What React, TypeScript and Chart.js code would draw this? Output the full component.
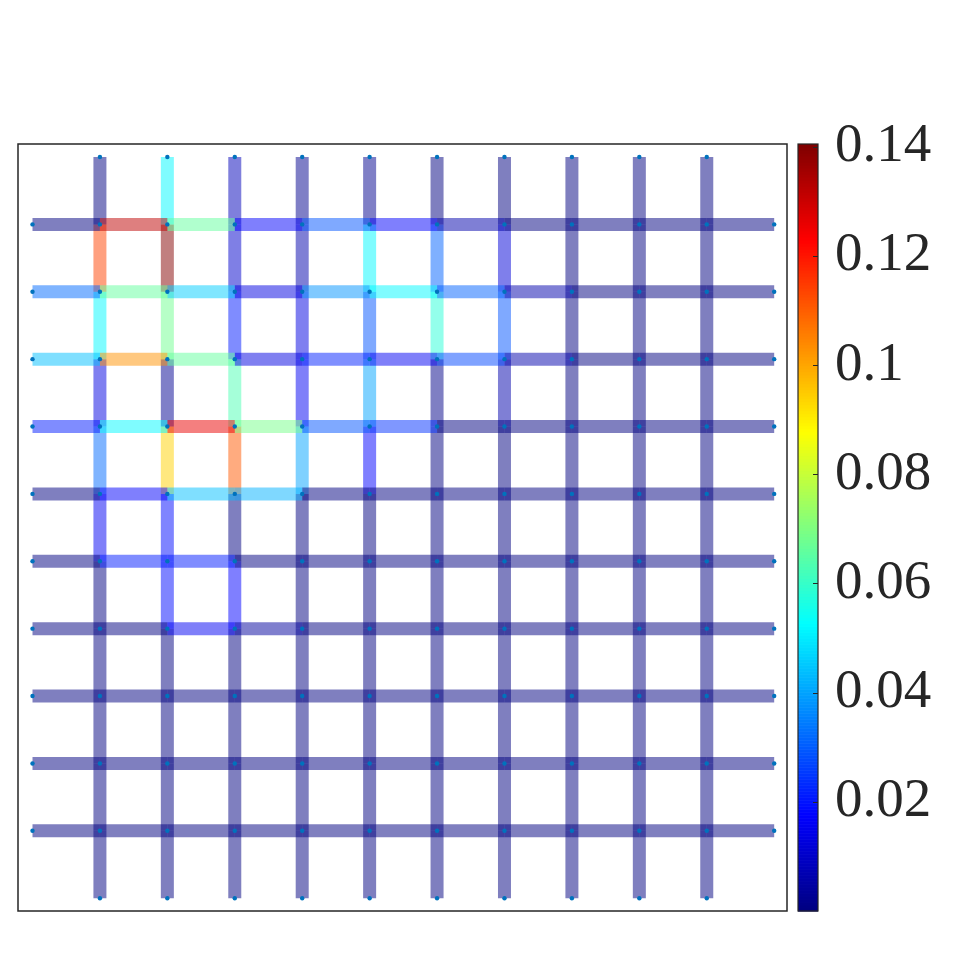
import React, { useEffect, useRef } from 'react';
import { Chart, registerables } from 'chart.js';

Chart.register(...registerables);

// Grid node positions (same for columns and rows) and the extent of the stubs
const NODES = [1, 2, 3, 4, 5, 6, 7, 8, 9, 10];
const SPAN_START = 0;
const SPAN_END = 11;

// Horizontal edge values: one row per grid row (top to bottom), 11 segments left to right
const H_VALUES: number[][] = [
  [0, 0.132, 0.066, 0.017, 0.029, 0.017, 0.006, 0, 0, 0, 0],
  [0.032, 0.066, 0.046, 0.0135, 0.038, 0.052, 0.031, 0.006, 0, 0, 0],
  [0.044, 0.103, 0.066, 0.0135, 0.022, 0.016, 0.027, 0.006, 0, 0, 0],
  [0.021, 0.052, 0.126, 0.069, 0.029, 0.024, 0, 0, 0, 0, 0],
  [0, 0.017, 0.044, 0.042, 0, 0, 0, 0, 0, 0, 0],
  [0, 0.021, 0.021, 0, 0, 0, 0, 0, 0, 0, 0],
  [0, 0, 0.016, 0.004, 0, 0, 0, 0, 0, 0, 0],
  [0, 0, 0, 0, 0, 0, 0, 0, 0, 0, 0],
  [0, 0, 0, 0, 0, 0, 0, 0, 0, 0, 0],
  [0, 0, 0, 0, 0, 0, 0, 0, 0, 0, 0],
];

// Vertical edge values: one entry per grid column (left to right), 11 segments top to bottom
const V_VALUES: number[][] = [
  [0, 0.114, 0.052, 0.0135, 0.032, 0.016, 0, 0, 0, 0, 0],
  [0.052, 0.14, 0.068, 0.0025, 0.094, 0.019, 0.019, 0, 0, 0, 0],
  [0.008, 0.0105, 0.021, 0.063, 0.111, 0, 0.0176, 0, 0, 0, 0],
  [0.002, 0.006, 0.0135, 0.016, 0.04, 0, 0, 0, 0, 0, 0],
  [0.002, 0.052, 0.029, 0.04, 0.0176, 0, 0, 0, 0, 0, 0],
  [0, 0.031, 0.058, 0.001, 0, 0, 0, 0, 0, 0, 0],
  [0, 0.012, 0.029, 0.006, 0, 0, 0, 0, 0, 0, 0],
  [0, 0, 0, 0, 0, 0, 0, 0, 0, 0, 0],
  [0, 0, 0, 0, 0, 0, 0, 0, 0, 0, 0],
  [0, 0, 0, 0, 0, 0, 0, 0, 0, 0, 0],
];

// Colour bar
const CB_MIN = 0;
const CB_MAX = 0.1405;
const CB_TICKS = [0.02, 0.04, 0.06, 0.08, 0.1, 0.12, 0.14];
const CB_TICK_LABELS = ['0.02', '0.04', '0.06', '0.08', '0.1', '0.12', '0.14'];

const clamp01 = (v: number) => Math.max(0, Math.min(1, v));

function jet(t: number): [number, number, number] {
  const u = clamp01(t);
  const r = clamp01(Math.min(4 * u - 1.5, -4 * u + 4.5));
  const g = clamp01(Math.min(4 * u - 0.5, -4 * u + 3.5));
  const b = clamp01(Math.min(4 * u + 0.5, -4 * u + 2.5));
  return [Math.round(r * 255), Math.round(g * 255), Math.round(b * 255)];
}

function valueColor(v: number, alpha: number) {
  const [r, g, b] = jet((v - CB_MIN) / (CB_MAX - CB_MIN));
  return `rgba(${r},${g},${b},${alpha})`;
}

const FONT_FAMILY = '"Liberation Serif", "Times New Roman", serif';

const frameAndColorbar = {
  id: 'frameAndColorbar',
  afterDraw(chart: any) {
    const { ctx, chartArea: a, scales } = chart;
    const cb = scales.cb;
    ctx.save();
    // plot frame
    ctx.strokeStyle = '#262626';
    ctx.lineWidth = 1.5;
    ctx.strokeRect(a.left, a.top, a.right - a.left, a.bottom - a.top);

    // colour bar
    const x0 = a.right + 11;
    const w = 20;
    const steps = 256;
    for (let i = 0; i < steps; i++) {
      const v0 = CB_MIN + ((CB_MAX - CB_MIN) * i) / steps;
      const v1 = CB_MIN + ((CB_MAX - CB_MIN) * (i + 1)) / steps;
      const y0 = cb.getPixelForValue(v0);
      const y1 = cb.getPixelForValue(v1);
      ctx.fillStyle = valueColor((v0 + v1) / 2, 1);
      ctx.fillRect(x0, y1, w, y0 - y1 + 0.6);
    }
    // colour bar ticks
    ctx.strokeStyle = '#262626';
    ctx.lineWidth = 1;
    CB_TICKS.forEach((v) => {
      const y = Math.round(cb.getPixelForValue(v)) + 0.5;
      ctx.beginPath();
      ctx.moveTo(x0 + w, y);
      ctx.lineTo(x0 + w - 5, y);
      ctx.stroke();
    });
    const yTop = cb.getPixelForValue(CB_MAX);
    const yBot = cb.getPixelForValue(CB_MIN);
    ctx.lineWidth = 1.2;
    ctx.strokeRect(x0, yTop, w, yBot - yTop);
    ctx.restore();
  },
};

export default function App() {
  const canvasRef = useRef<HTMLCanvasElement | null>(null);

  useEffect(() => {
    if (!canvasRef.current) return;
    const breaks = [SPAN_START, ...NODES, SPAN_END];
    const datasets: any[] = [];

    // node and end-point markers (first dataset is drawn on top)
    const dots: { x: number; y: number }[] = [];
    NODES.forEach((y) => breaks.forEach((x) => dots.push({ x, y })));
    NODES.forEach((x) => {
      dots.push({ x, y: SPAN_START });
      dots.push({ x, y: SPAN_END });
    });
    datasets.push({
      data: dots,
      showLine: false,
      pointRadius: 2.2,
      pointBorderWidth: 0,
      pointBackgroundColor: '#0072BD',
      order: -1,
    });

    const seg = (p0: any, p1: any, v: number) => ({
      data: [p0, p1],
      showLine: true,
      borderColor: valueColor(v, 0.5),
      borderWidth: 13,
      borderCapStyle: 'butt',
      pointRadius: 0,
      tension: 0,
      order: 1,
    });

    H_VALUES.forEach((row, r) => {
      const y = NODES[r];
      row.forEach((v, k) => {
        datasets.push(seg({ x: breaks[k], y }, { x: breaks[k + 1], y }, v));
      });
    });
    V_VALUES.forEach((col, c) => {
      const x = NODES[c];
      col.forEach((v, k) => {
        datasets.push(seg({ x, y: breaks[k] }, { x, y: breaks[k + 1] }, v));
      });
    });

    const chart = new Chart(canvasRef.current, {
      type: 'scatter',
      data: { datasets },
      options: {
        animation: false,
        responsive: false,
        devicePixelRatio: 1,
        events: [],
        layout: { padding: { left: 18, top: 144, bottom: 49, right: 0 } },
        plugins: { legend: { display: false }, tooltip: { enabled: false } },
        scales: {
          x: { type: 'linear', min: -0.215, max: 11.19, display: false },
          y: { type: 'linear', min: -0.193, max: 11.19, reverse: true, display: false },
          cb: {
            type: 'linear',
            position: 'right',
            display: true,
            min: CB_MIN,
            max: CB_MAX,
            afterBuildTicks: (scale: any) => {
              scale.ticks = CB_TICKS.map((value) => ({ value }));
            },
            afterFit: (scale: any) => {
              scale.width = 173;
              scale.paddingTop = 0;
              scale.paddingBottom = 0;
            },
            grid: { display: false, drawTicks: false },
            border: { display: false },
            ticks: {
              padding: 48,
              color: '#262626',
              font: { family: FONT_FAMILY, size: 55 },
              callback: (value: any) => {
                const i = CB_TICKS.findIndex((t) => Math.abs(t - Number(value)) < 1e-9);
                return i >= 0 ? CB_TICK_LABELS[i] : '';
              },
            },
          },
        },
      } as any,
      plugins: [frameAndColorbar],
    });
    return () => chart.destroy();
  }, []);

  return (
    <div style={{ position: 'fixed', left: 0, top: 0, width: 960, height: 960, background: '#fff' }}>
      <canvas ref={canvasRef} width={960} height={960} />
    </div>
  );
}
